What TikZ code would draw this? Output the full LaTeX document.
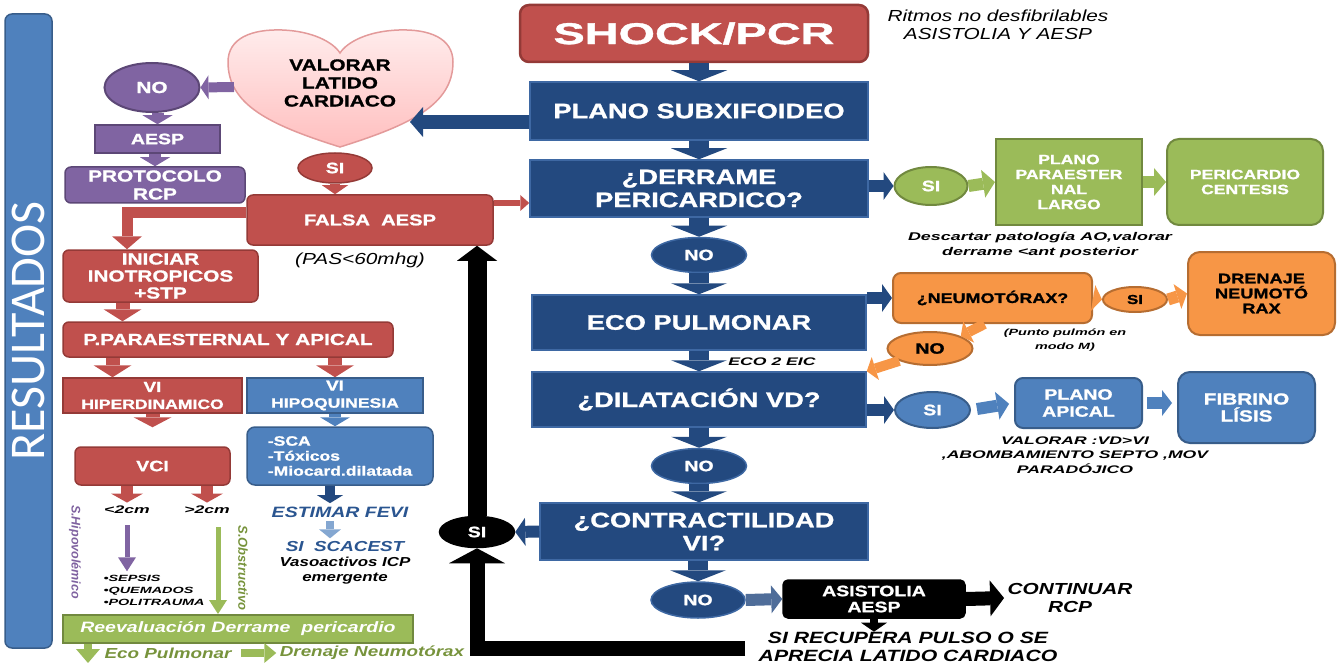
\documentclass[tikz,border=0pt]{standalone}
\usepackage{graphicx}
\usepackage{fontspec}
\setmainfont{Liberation Sans}
\newfontfamily\wide{Liberation Sans}[FakeStretch=1.3,BoldFeatures={FakeBold=1.2}]
\newfontfamily\xwide{Liberation Sans}[FakeStretch=1.6,BoldFeatures={FakeBold=1.2}]
\newfontfamily\calib{Carlito}
\usetikzlibrary{arrows.meta,shapes.geometric}
\definecolor{redF}{HTML}{C0504D}
\definecolor{redB}{HTML}{943A37}
\definecolor{blueD}{HTML}{23497F}
\definecolor{blueDB}{HTML}{3E68A3}
\definecolor{blueM}{HTML}{4F81BD}
\definecolor{blueMB}{HTML}{385D8A}
\definecolor{purF}{HTML}{8064A2}
\definecolor{purB}{HTML}{5C4776}
\definecolor{grnF}{HTML}{9BBB59}
\definecolor{grnB}{HTML}{71893F}
\definecolor{orgF}{HTML}{F79646}
\definecolor{orgB}{HTML}{B66D31}
\definecolor{olive}{HTML}{77933C}
\definecolor{purT}{HTML}{7F62A0}
\definecolor{blueT}{HTML}{2A5590}
\definecolor{pinkT}{HTML}{FFECEC}
\definecolor{pinkB}{HTML}{FFBFBF}
\definecolor{pinkD}{HTML}{E39A9A}
\newcommand\myfs[2]{\fontsize{#1}{#2}\selectfont}
\begin{document}
\begin{tikzpicture}[x=1pt,y=-1pt,
  fat/.style n args={4}{draw=#1,line width=#2,-{Triangle[width=#3,length=#4,line width=0pt]}},
  carr/.style={fat={blueD}{20pt}{56pt}{11pt}},
  sarr/.style={fat={blueD}{12pt}{28pt}{10pt}},
  bx/.style={draw,line width=1.5pt,align=center,inner sep=0pt,text=white},
  fb/.style 2 args={font=\wide\bfseries\myfs{#1}{#2}},
  fbi/.style 2 args={font=\wide\bfseries\itshape\myfs{#1}{#2}},
  fxi/.style 2 args={font=\xwide\bfseries\itshape\myfs{#1}{#2}},
  cbox/.style={bx,fill=blueD,draw=blueDB,fb={21}{23}},
  rbox/.style={bx,fill=redF,draw=redB},
  pbox/.style={bx,fill=purF,draw=purB},
  gbox/.style={bx,fill=grnF,draw=grnB},
  obox/.style={bx,fill=orgF,draw=orgB,text=black},
  mbox/.style={bx,fill=blueM,draw=blueMB},
  kbox/.style={bx,fill=black,draw=black},
  ell/.style={ellipse,inner sep=0pt,line width=1.5pt,align=center}
]
\useasboundingbox (0,0) rectangle (1341,663);

% side band
\node[fill=blueM,draw=blueMB,line width=1.5pt,rounded corners=7pt,rotate=90,minimum width=634pt,minimum height=47pt,inner sep=0pt,text=white,font=\calib\myfs{50}{50}] (band) at (28.5,331) {RESULTADOS};

% heart
\draw[draw=pinkD,line width=1.5pt,top color=pinkT,bottom color=pinkB]
  (340,147) .. controls (270,125) and (228,105) .. (228,62)
  .. controls (228,38) and (252,29) .. (282,30)
  .. controls (312,31) and (333,42) .. (340,53)
  .. controls (347,42) and (368,31) .. (399,30)
  .. controls (429,29) and (453,38) .. (453,62)
  .. controls (453,105) and (410,125) .. (340,147) -- cycle;
\node[fb={16}{18},align=center] (heart) at (340,83) {VALORAR\\LATIDO\\CARDIACO};
\coordinate (heartR) at (410,122);
\coordinate (heartL) at (234,87);

% central column
\node[rbox,rounded corners=9pt,minimum width=348pt,minimum height=57pt,line width=2.5pt,fb={30}{30}] (shock) at (694,33.5) {\scalebox{1.2}[1]{SHOCK/PCR}};
\node[cbox,minimum width=338pt,minimum height=58pt] (plano) at (699,111) {PLANO SUBXIFOIDEO};
\node[cbox,minimum width=338pt,minimum height=57pt] (derr) at (699,188.5) {¿DERRAME\\PERICARDICO?};
\node[ell,fill=blueD,draw=blueDB,minimum width=95pt,minimum height=35pt,text=white,fb={15}{15}] (noA) at (699,255) {NO};
\node[cbox,minimum width=334pt,minimum height=55pt] (eco) at (699,322.5) {ECO PULMONAR};
\node[cbox,minimum width=334pt,minimum height=55pt] (dil) at (699,399.5) {¿DILATACIÓN VD?};
\node[ell,fill=blueD,draw=blueDB,minimum width=95pt,minimum height=35pt,text=white,fb={15}{15}] (noB) at (699,466) {NO};
\node[cbox,minimum width=328pt,minimum height=57pt] (contr) at (704,531.5) {¿CONTRACTILIDAD\\VI?};
\node[ell,fill=blueD,draw=blueDB,minimum width=94pt,minimum height=36pt,text=white,fb={15}{15}] (noC) at (698,600) {NO};
\node[kbox,rounded corners=5pt,minimum width=182pt,minimum height=38pt,fb={15}{16}] (asis) at (874,599) {ASISTOLIA\\AESP};
\node[fbi={16}{18},align=center] (cont) at (1070,598) {CONTINUAR\\RCP};
\node[fbi={16.3}{18},align=center] (recup) at (908,647) {SI RECUPERA PULSO O SE\\APRECIA LATIDO CARDIACO};
\node[ell,fill=black,draw=black,minimum width=75pt,minimum height=31pt,text=white,fb={15}{15}] (siK) at (477,532) {SI};
\node[fxi={11}{11}] (eic) at (772,362) {ECO 2 EIC};

% left part
\node[ell,fill=purF,draw=purB,line width=2pt,minimum width=95pt,minimum height=49pt,text=white,fb={16}{16}] (noP) at (152,87.5) {NO};
\node[pbox,minimum width=125pt,minimum height=28pt,fb={15}{15}] (aesp) at (157.5,139) {AESP};
\node[pbox,rounded corners=6pt,minimum width=180pt,minimum height=36pt,fb={16}{18}] (proto) at (155,185) {PROTOCOLO\\RCP};
\node[ell,fill=redF,draw=redB,minimum width=74pt,minimum height=30pt,text=white,fb={15}{15}] (siR) at (335,168) {SI};
\node[rbox,rounded corners=6pt,minimum width=246pt,minimum height=50pt,fb={15.5}{16}] (falsa) at (370,220) {FALSA\ \ AESP};
\node[font=\wide\itshape\myfs{16}{16}] (pas) at (360,260) {(PAS<60mhg)};
\node[rbox,rounded corners=6pt,minimum width=195pt,minimum height=52pt,fb={16}{17}] (inic) at (160.5,276) {INICIAR\\INOTROPICOS\\+STP};
\node[rbox,rounded corners=6pt,minimum width=330pt,minimum height=35pt,fb={16}{16}] (ppar) at (228,339.5) {P.PARAESTERNAL Y APICAL};
\node[rbox,minimum width=179pt,minimum height=35pt,fb={13.5}{17}] (viH) at (152.5,395.5) {{\myfs{14.5}{17}VI}\\HIPERDINAMICO};
\node[mbox,minimum width=176pt,minimum height=35pt,fb={13.5}{17}] (viQ) at (335,395.5) {{\myfs{14.5}{17}VI}\\HIPOQUINESIA};
\node[rbox,rounded corners=6pt,minimum width=155pt,minimum height=38pt,fb={15}{15}] (vci) at (152.5,466) {VCI};
\node[fxi={11}{11}] (lt) at (127,510) {<2cm};
\node[fxi={11}{11}] (gt) at (207,510) {>2cm};
\node[rotate=-90,text=purT,font=\bfseries\itshape\myfs{12.5}{12.5}] (shipo) at (75,552) {S.Hipovolémico};
\node[rotate=-90,text=olive,font=\bfseries\itshape\myfs{13}{13}] (sobs) at (243,568) {S.Obstructivo};
\node[fxi={9}{12},align=left,anchor=west] (sep) at (100,590) {•SEPSIS\\•QUEMADOS\\•POLITRAUMA};
\node[gbox,line width=2pt,minimum width=350pt,minimum height=28pt,fbi={15}{15}] (reev) at (238,629) {Reevaluación Derrame\ \ pericardio};
\node[text=olive,fbi={14.5}{15}] (ecoP) at (168,653) {Eco Pulmonar};
\node[text=olive,fbi={14.5}{15}] (drenP) at (372,653) {Drenaje Neumotórax};
\coordinate (reevDn) at (88,663);
\node[mbox,rounded corners=8pt,minimum width=186pt,minimum height=58pt,fb={13.5}{15},align=left] (sca) at (340,456) {-SCA\\-Tóxicos\\-Miocard.dilatada};
\node[text=blueT,fbi={15}{15}] (est) at (340,512) {ESTIMAR FEVI};
\node[text=blueT,fbi={14.5}{15}] (scac) at (345,547) {SI\ \ SCACEST};
\node[fbi={13}{15},align=center] (vaso) at (345,571) {Vasoactivos ICP\\emergente};

% right part
\node[font=\wide\itshape\myfs{16}{18},align=center] (ritmo) at (998,25) {Ritmos no desfibrilables\\ASISTOLIA Y AESP};
\node[ell,fill=grnF,draw=grnB,line width=2pt,minimum width=73pt,minimum height=38pt,text=white,fb={15}{15}] (siG) at (931,186) {SI};
\node[gbox,line width=2pt,minimum width=146pt,minimum height=86pt,fb={13.5}{15}] (planoP) at (1069,182) {PLANO\\PARAESTER\\NAL\\LARGO};
\node[gbox,rounded corners=12pt,line width=2pt,minimum width=156pt,minimum height=86pt,fb={13.5}{15}] (peric) at (1245,182) {PERICARDIO\\CENTESIS};
\node[fxi={11.2}{15},align=center] (desc) at (1040,245) {Descartar patología AO,valorar\\derrame <ant posterior};
\node[obox,rounded corners=8pt,line width=2pt,minimum width=199pt,minimum height=50pt,fb={13.8}{14}] (neumo) at (992.5,298) {¿NEUMOTÓRAX?};
\node[ell,fill=orgF,draw=orgB,line width=2pt,minimum width=64pt,minimum height=25pt,text=black,fb={13}{13}] (siO) at (1135,299.5) {SI};
\node[obox,rounded corners=12pt,line width=2pt,minimum width=147pt,minimum height=83pt,fb={14}{15}] (drenN) at (1261.5,293.5) {DRENAJE\\NEUMOTÓ\\RAX};
\node[ell,fill=orgF,draw=orgB,line width=2pt,minimum width=85pt,minimum height=33pt,text=black,fb={15}{15}] (noO) at (930,348.5) {NO};
\node[fxi={9}{14},align=center] (punto) at (1065,340) {(Punto pulmón en\\modo M)};
\node[ell,fill=blueM,draw=blueMB,line width=2pt,minimum width=75pt,minimum height=36pt,text=white,fb={15}{15}] (siM) at (932.5,410) {SI};
\node[mbox,rounded corners=8pt,line width=2pt,minimum width=127pt,minimum height=50pt,fb={15}{17}] (apical) at (1078.5,403) {PLANO\\APICAL};
\node[mbox,rounded corners=12pt,line width=2pt,minimum width=137pt,minimum height=71pt,fb={16}{17}] (fib) at (1246.5,407.5) {FIBRINO\\LÍSIS};
\node[fxi={11}{14.5},align=center] (valor) at (1075,455) {VALORAR :VD>VI\\,ABOMBAMIENTO SEPTO ,MOV\\PARADÓJICO};

% central arrows
\draw[carr] (plano.north |- shock.south) -- (plano.north);
\draw[carr] (plano.south) -- (derr.north);
\draw[carr] (derr.south) -- (noA.north);
\draw[carr] (noA.south) -- (eco.north);
\draw[carr] (eco.south) -- (dil.north);
\draw[carr] (dil.south) -- (noB.north);
\draw[carr] (noB.south) -- (noB.south |- contr.north);
\draw[carr] (noC.north |- contr.south) -- (noC.north);
\draw[fat={blueD}{14pt}{30pt}{13pt}] ([yshift=-11pt]plano.west) -- (heartR);
\draw[sarr] (derr.east |- siG.west) -- (siG.west);
\draw[sarr] (eco.east |- neumo.west) -- (neumo.west);
\draw[sarr] (dil.east |- siM.west) -- (siM.west);
\draw[sarr] (contr.west) -- (siK.east);
\draw[fat={blueD!80!white}{12pt}{28pt}{11pt}] (noC.east) -- (asis.west);

% right arrows
\draw[fat={grnF}{12pt}{28pt}{12pt}] (siG.east) -- (planoP.west);
\draw[fat={grnF}{12pt}{28pt}{12pt}] (planoP.east) -- (peric.west);
\draw[fat={orgF}{12pt}{26pt}{9pt}] (neumo.east) -- (siO.west);
\draw[fat={orgF}{12pt}{26pt}{10pt}] (siO.east) -- (drenN.west);
\draw[fat={orgF}{10pt}{24pt}{9pt}] ([xshift=-8pt]neumo.south) -- (noO.north east);
\draw[fat={orgF}{10pt}{24pt}{9pt}] (noO.south west) -- (dil.north east);
\draw[fat={blueM}{12pt}{28pt}{12pt},shorten <=6pt,shorten >=5pt] (siM.east) -- (apical.west);
\draw[fat={blueM}{12pt}{26pt}{10pt},shorten <=4pt,shorten >=5pt] (apical.east) -- (apical.east -| fib.west);

% black arrows
\draw[fat={black}{14pt}{36pt}{14pt}] (asis.east) -- (cont.west);
\draw[fat={black}{8pt}{26pt}{9pt},shorten >=-3pt] (asis.south) -- (asis.south |- recup.north);
\draw[fat={black}{15pt}{56pt}{15pt},shorten <=10pt] ([yshift=-1pt]recup.west) -| (siK.south);
\draw[fat={black}{19pt}{40pt}{15pt}] (siK.north) -- (siK.north |- falsa.south);

% left arrows
\draw[fat={purF}{10pt}{24pt}{8pt}] (heartL) -- (noP.east);
\draw[fat={purF}{12pt}{30pt}{9pt}] (aesp.north |- noP.south) -- (aesp.north);
\draw[fat={purF}{12pt}{30pt}{9pt}] (proto.north |- aesp.south) -- (proto.north);
\draw[fat={redF}{10pt}{26pt}{9pt}] (siR.south) -- (siR.south |- falsa.north);
\draw[fat={redF}{6pt}{16pt}{9pt}] ([yshift=17pt]falsa.east) -- ([yshift=17pt]falsa.east -| derr.west);
\draw[fat={redF}{11pt}{30pt}{13pt}] ([yshift=7pt]falsa.west) -| ([xshift=-33.5pt]inic.north);
\draw[fat={redF}{14pt}{38pt}{12pt}] ([xshift=-38pt]inic.south) -- ([xshift=-38pt]inic.south |- ppar.north);
\draw[fat={redF}{14pt}{38pt}{12pt}] ([xshift=-40pt]viH.north |- ppar.south) -- ([xshift=-40pt]viH.north);
\draw[fat={redF}{14pt}{38pt}{12pt}] (viQ.north |- ppar.south) -- (viQ.north);
\draw[fat={redF}{14pt}{38pt}{10pt},shorten >=19pt] (vci.north |- viH.south) -- (vci.north);
\draw[fat={redF}{12pt}{32pt}{9pt}] ([xshift=-25.5pt]vci.south) -- (lt.north);
\draw[fat={redF}{12pt}{32pt}{9pt}] (gt.north |- vci.south) -- (gt.north);
\draw[fat={purF}{5pt}{18pt}{14pt},shorten <=8pt] (lt.south) -- (lt.south |- sep.north);
\draw[fat={grnF}{5pt}{18pt}{14pt},shorten <=10pt] ([xshift=11pt]gt.south) -- ([xshift=11pt]gt.south |- reev.north);
\draw[fat={blueM}{12pt}{30pt}{9pt}] (viQ.south) -- (viQ.south |- sca.north);
\draw[fat={blueD}{10pt}{26pt}{8pt}] ([xshift=-10pt]sca.south) -- ([xshift=-10pt]sca.south |- est.north);
\draw[fat={blueM!70!white}{8pt}{22pt}{9pt}] ([xshift=-10pt]est.south) -- ([xshift=-10pt]est.south |- scac.north);
\draw[fat={grnF}{8pt}{24pt}{14pt}] (reev.south -| reevDn) -- (reevDn);
\draw[fat={grnF}{8pt}{20pt}{12pt},shorten <=6pt] (ecoP.east) -- (drenP.west);
\end{tikzpicture}
\end{document}
